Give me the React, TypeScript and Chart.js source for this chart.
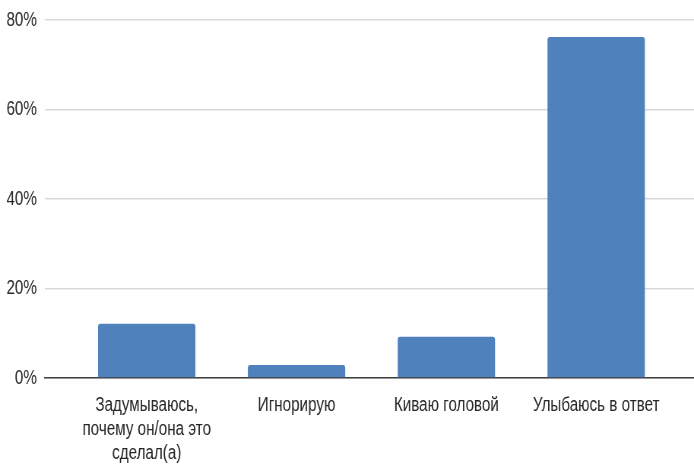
import React, { useEffect, useRef } from "react";
import { Chart, registerables } from "chart.js";

Chart.register(...registerables);

const categories: (string | string[])[] = [
  ["Задумываюсь,", "почему он/она это", "сделал(а)"],
  "Игнорирую",
  "Киваю головой",
  "Улыбаюсь в ответ",
];
const values = [12.1, 2.9, 9.2, 76.2];
const yTicks = [0, 20, 40, 60, 80];

const FONT = "'Liberation Sans', Arial, sans-serif";
const OUT_W = 694;
const OUT_H = 468;
const SQUEEZE = 0.76;
const IN_W = Math.round(OUT_W / SQUEEZE);

export default function App() {
  const ref = useRef<HTMLCanvasElement | null>(null);
  useEffect(() => {
    if (!ref.current) return;
    const chart = new Chart(ref.current, {
      type: "bar",
      data: {
        datasets: [
          {
            data: values.map((v, i) => ({ x: i, y: v })),
            backgroundColor: "#4f81bd",
            borderRadius: { topLeft: 3, topRight: 3, bottomLeft: 0, bottomRight: 0 },
            borderSkipped: "bottom",
            categoryPercentage: 1,
            barPercentage: 0.65,
          },
        ],
      },
      options: {
        animation: false,
        responsive: false,
        maintainAspectRatio: false,
        layout: { padding: { left: 0, top: 20, right: 0, bottom: -12 } },
        plugins: { legend: { display: false }, tooltip: { enabled: false } },
        scales: {
          x: {
            type: "linear",
            offset: false,
            min: -0.68,
            max: 3.653,
            afterBuildTicks: (scale: any) => {
              scale.ticks = categories.map((_, i) => ({ value: i }));
            },
            grid: { display: false, drawTicks: false },
            border: { display: true, color: "#404040", width: 1.5 },
            ticks: {
              autoSkip: false,
              maxRotation: 0,
              minRotation: 0,
              padding: 15,
              color: "#262626",
              font: { family: FONT, size: 20, lineHeight: 1.2 },
              callback: (v: any) => categories[v as number] as any,
            },
          },
          y: {
            min: 0,
            max: 80,
            afterBuildTicks: (scale: any) => {
              scale.ticks = yTicks.map((v) => ({ value: v }));
            },
            afterFit: (scale: any) => {
              scale.width = 59;
              scale.paddingTop = 0;
            },
            grid: { color: "#d9d9d9", lineWidth: 1.5, drawTicks: false },
            border: { display: false },
            ticks: {
              padding: 10.5,
              color: "#262626",
              font: { family: FONT, size: 20 },
              callback: (v: any) => v + "%",
            },
          },
        },
      },
    });
    return () => chart.destroy();
  }, []);
  return (
    <div style={{ position: "fixed", left: 0, top: 0, width: OUT_W, height: OUT_H, overflow: "hidden", background: "#fff" }}>
      <div style={{ width: IN_W, height: OUT_H, transform: `scaleX(${OUT_W / IN_W})`, transformOrigin: "0 0" }}>
        <canvas ref={ref} width={IN_W} height={OUT_H} style={{ width: IN_W, height: OUT_H, display: "block" }} />
      </div>
    </div>
  );
}
